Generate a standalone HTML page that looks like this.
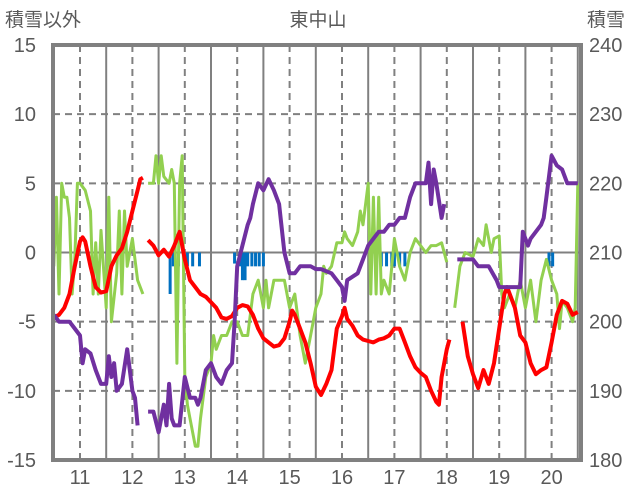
<!DOCTYPE html>
<html><head><meta charset="utf-8"><style>
body{margin:0;background:#fff;}
svg{display:block;font-family:"Liberation Sans","Noto Sans CJK JP",sans-serif;}
</style></head><body>
<svg id="c" width="636" height="501"></svg>
<script>
const days=[11,12,13,14,15,16,17,18,19,20];
const leftTicks=[15,10,5,0,-5,-10,-15];
const rightTicks=[240,230,220,210,200,190,180];
const redX=[10.5,10.6,10.7,10.8,10.9,11.0,11.05,11.1,11.2,11.3,11.4,11.5,11.6,11.7,11.8,11.9,12.0,12.1,12.15,12.2,null,12.3,12.4,12.5,12.6,12.7,12.8,12.9,12.95,13.0,13.1,13.2,13.3,13.4,13.5,13.6,13.7,13.8,13.9,14.0,14.1,14.2,14.3,14.4,14.5,14.6,14.7,14.8,14.9,15.0,15.05,15.1,15.2,15.3,15.4,15.5,15.6,15.7,15.8,15.9,16.0,16.05,16.1,16.2,16.3,16.4,16.5,16.6,16.7,16.8,16.9,17.0,17.1,17.2,17.3,17.4,17.5,17.6,17.7,17.8,17.85,17.9,18.0,18.05,null,18.3,18.4,18.5,18.6,18.7,18.8,18.9,19.0,19.1,19.15,19.2,19.3,19.4,19.5,19.6,19.7,19.8,19.9,20.0,20.1,20.2,20.3,20.4,20.5];
const redY=[-4.7,-4.5,-4.0,-3.0,-1,0.8,1.1,0.8,-1,-2.5,-2.9,-2.8,-1,-0.2,0.3,1.5,3,4.5,5.3,5.4,null,0.9,0.5,-0.2,0.2,-0.3,0.5,1.5,0.5,-0.5,-2.0,-2.5,-3.0,-3.2,-3.6,-4.0,-4.7,-4.8,-4.6,-4.0,-3.8,-3.9,-4.5,-5.5,-6.2,-6.5,-6.8,-6.7,-6.2,-5.0,-4.2,-4.5,-5.5,-6.5,-8.0,-9.7,-10.3,-9.5,-8.5,-5.5,-4.6,-4.0,-4.8,-5.3,-6.0,-6.3,-6.4,-6.5,-6.3,-6.2,-6.0,-5.5,-5.5,-6.5,-7.5,-8.3,-8.7,-9.0,-10.0,-10.8,-11.0,-9,-7.0,-6.3,null,-5.0,-7.5,-8.8,-9.8,-8.5,-9.5,-8,-5.5,-3.0,-2.5,-3.0,-4.0,-6.0,-6.5,-8.0,-8.8,-8.5,-8.3,-6.5,-4.5,-3.5,-3.7,-4.5,-4.3];
const greenX=[10.5,10.55,10.6,10.65,10.7,10.75,10.8,10.85,10.9,10.95,11.0,11.1,11.2,11.25,11.3,11.35,11.4,11.5,11.55,11.6,11.7,11.75,11.8,11.85,11.9,12.0,12.1,12.2,null,12.3,12.4,12.45,12.5,12.55,12.6,12.7,12.75,12.8,12.85,12.9,12.95,13.0,13.05,13.1,13.2,13.25,13.3,13.4,13.5,13.55,13.6,13.7,13.8,13.9,14.0,14.1,14.2,14.3,14.4,14.5,14.55,14.6,14.7,14.8,14.9,15.0,15.1,15.2,15.3,15.4,15.5,15.6,15.65,15.7,15.8,15.9,16.0,16.05,16.1,16.2,16.3,16.35,16.4,16.5,16.55,16.6,16.65,16.7,16.75,16.8,16.9,17.0,17.1,17.2,17.3,17.4,17.5,17.6,17.7,17.8,17.9,18.0,null,18.15,18.25,18.35,18.5,18.6,18.7,18.75,18.85,18.9,19.0,19.05,19.1,19.2,19.3,19.4,19.5,19.6,19.7,19.8,19.9,20.0,20.1,20.15,20.2,20.3,20.4,20.45,20.5];
const greenY=[-1,4,-3,5,4,4,2.5,-3,-0.5,5,5,4.5,3,-3,0.7,-3,1.6,-4,4,-5,-1.5,3,-3,3,-1,1,-2,-3,null,5,5,7,5,7,5.5,5,6,5,-8,5,7,-9,-11,-12,-14,-14,-12,-9,-8,-6,-7,-6,-6,-5,-5,-6,-6,-3,-2,-4,-2,-4,-2,-2,-2,-4,-3,-6,-8,-6,-4,-3,-1,-1.5,-1,0.7,0.7,1.5,1,0.5,1.5,3,2,5,-3,4,-3,4,-3,-2,-3,1,-1,-2,0,1,0.5,0,0.5,0.5,0.7,-0.7,null,-4,-1,0,-0.3,1,0.5,2,0,1,1.2,-3,-4,-3,-4,-2,-4,-2,-5,-2,-0.5,-2,-3,-5.5,-3.5,-4,-5,-4,5];
const purpleX=[10.5,10.6,10.8,10.9,11.0,11.05,11.1,11.2,11.3,11.4,11.5,11.55,11.6,11.65,11.7,11.8,11.9,12.0,12.05,12.1,null,12.3,12.4,12.5,12.6,12.65,12.7,12.75,12.8,12.9,13.0,13.1,13.2,13.25,13.3,13.4,13.5,13.6,13.7,13.8,13.9,13.95,14.0,14.1,14.2,14.25,14.3,14.4,14.5,14.6,14.7,14.8,14.9,15.0,15.1,15.2,15.4,15.5,15.6,15.8,15.9,16.0,16.05,16.1,16.3,16.4,16.5,16.6,16.7,16.8,16.9,17.0,17.1,17.2,17.3,17.4,17.6,17.65,17.7,17.75,17.8,17.9,17.95,null,18.2,18.5,18.6,18.8,18.95,19.0,19.4,19.45,19.5,19.55,19.6,19.8,19.85,19.9,20.0,20.1,20.2,20.3,20.5];
const purpleY=[201,200,200,199,198,194,196,195.4,193,191,191,195,192,194,190,191,196,190,189,185,null,187,187,184,188,185,191,186,185,185,192,189,189,188,189,193,194,192,191,193,194,200,208,211,214,215,217,220,219,220.6,219,217,210,207,207,208,208,207.6,207.6,207,206,205,203,206,207,209,211,212,213,213,214,214,215,215,218,220,220,223,217,222,220,215,217,null,209,209,208,208,206,205,205,213,212,211,212,214,215,218,224,222.6,222,220,220];
const snowX=[12.72,12.78,12.88,13.05,13.15,13.28,13.95,14.05,14.1,14.15,14.2,14.28,14.35,14.42,14.5,16.75,16.85,16.95,17.0,17.1,17.2,19.95,20.02];
const snowY=[-3,-1,-1,-1,-1,-1,-0.8,-1,-2,-2,-1,-1,-1,-1,-1,-1,-1,-1,-1,-1,-1,-1,-1];

const L=53,R=581,T=45,B=460;
const xS=d=>80+(d-11)*52.4;
const yL=v=>252.5-v*(B-T)/30;
const yR=v=>B-(v-180)*(B-T)/60;
const svg=document.getElementById('c');
const NS='http://www.w3.org/2000/svg';
function mk(tag,attrs,parent){const e=document.createElementNS(NS,tag);for(const k in attrs)e.setAttribute(k,attrs[k]);(parent||svg).appendChild(e);return e;}
// horizontal gridlines
leftTicks.forEach(v=>{if(v===15||v===-15)return;
 const g=mk('line',{x1:L,x2:R,y1:yL(v),y2:yL(v),stroke:'#808080','stroke-width':2,'stroke-dasharray':v===0?'':'7,5'});
 
 });
// vertical gridlines
days.forEach(d=>{
 const g=mk('line',{x1:xS(d),x2:xS(d),y1:T,y2:B,stroke:'#808080','stroke-width':2,'stroke-dasharray':'7,5'});
 
 
 const s=mk('line',{x1:xS(d)+26.2,x2:xS(d)+26.2,y1:T,y2:B,stroke:'#808080','stroke-width':2});
 
 
 const t=mk('text',{x:xS(d),y:484,'text-anchor':'middle','font-size':20,fill:'#595959'});
 t.textContent=d;
 
 });
// snow bars
snowX.forEach((d,i)=>{
 const b=mk('rect',{x:xS(d)-1.5,y:yL(0),width:3,height:yL(snowY[i])-yL(0),fill:'#0070c0'});
 
 });
function line(xs,ys,ysc,color,w,name){
 let d='',pen=false;
 xs.forEach((x,i)=>{if(x===null||ys[i]===null){pen=false;return;}
  d+=(pen?'L':'M')+xS(x).toFixed(1)+','+ysc(ys[i]).toFixed(1);pen=true;});
 const p=mk('path',{d:d,fill:'none',stroke:color,'stroke-width':w,'stroke-linejoin':'round'});
 
 }
line(greenX,greenY,yL,'#92d050',3,'green-series-line');
line(redX,redY,yL,'#ff0000',4,'red-series-line');
line(purpleX,purpleY,yR,'#7030a0',4,'snow-depth-line');
// frame
const f=mk('rect',{x:L,y:T,width:R-L,height:B-T,fill:'none',stroke:'#808080','stroke-width':4});


leftTicks.forEach(v=>{const t=mk('text',{x:36,y:yL(v)+7,'text-anchor':'end','font-size':20,fill:'#595959'});
 t.textContent=v;
 
 });
rightTicks.forEach(v=>{const t=mk('text',{x:589,y:yR(v)+7,'font-size':20,fill:'#595959'});
 t.textContent=v;
 
 });
[['積雪以外',5,'start','left-axis-title'],['東中山',318,'middle','chart-title'],['積雪',587,'start','right-axis-title']].forEach(a=>{
 const t=mk('text',{x:a[1],y:26,'text-anchor':a[2],'font-size':19,fill:'#595959'});
 t.textContent=a[0];
 
 });
</script>
</body></html>
